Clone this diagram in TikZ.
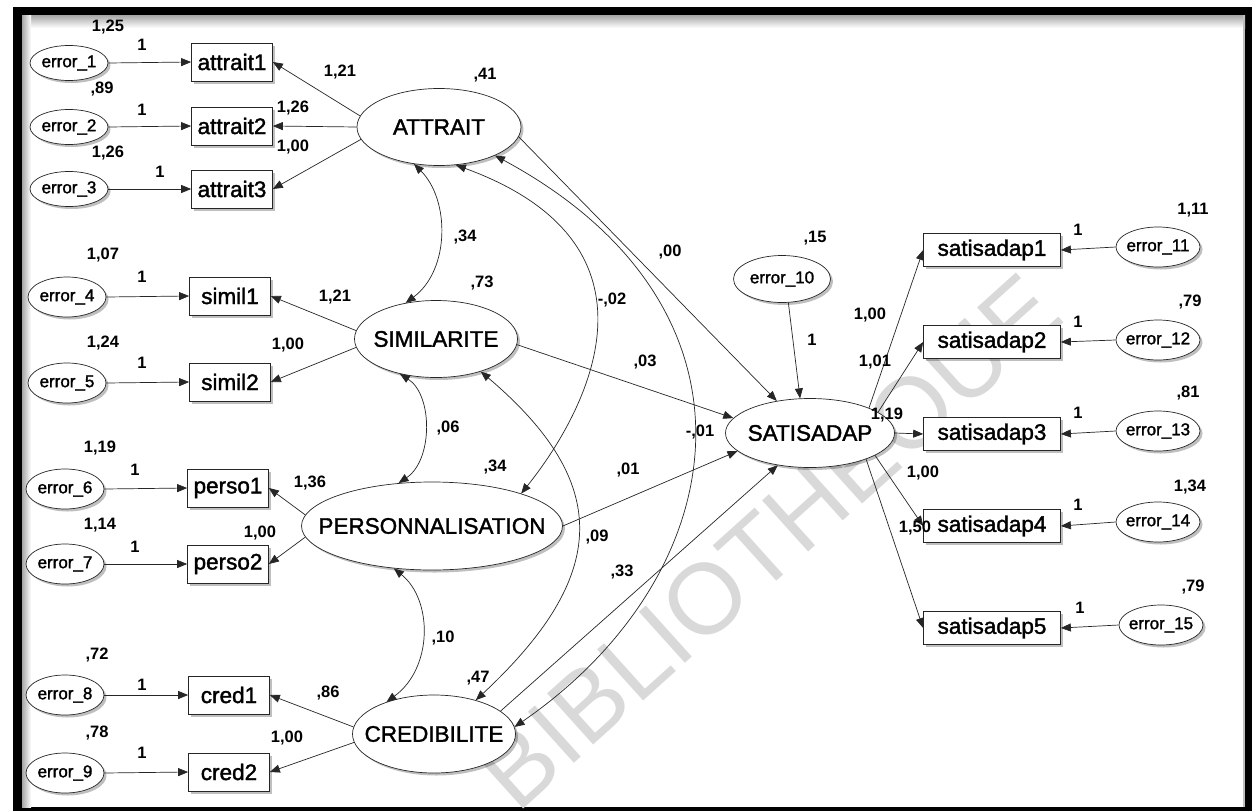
\documentclass[tikz,border=0pt]{standalone}
\usepackage{fontspec}
\setmainfont{Liberation Sans}
% heavier faces for the diagram text
\newfontfamily\amos{Liberation Sans}[FakeBold=1.6]
\newfontfamily\amosnum{Liberation Sans Bold}
\usetikzlibrary{shapes.geometric,arrows.meta,shadows}

% zero-width box so that long labels do not enlarge the ellipses
\newcommand\zw[1]{\makebox[0pt]{#1}}

\begin{document}
\begin{tikzpicture}[x=1pt,y=-1pt,
  line/.style={draw=black!85,line width=0.7pt},
  arr/.style={line,-{Triangle[length=10pt,width=8pt]}},
  dbl/.style={line,{Triangle[length=10pt,width=8pt]}-{Triangle[length=10pt,width=8pt]}},
  shd/.style={drop shadow={shadow xshift=2.5pt,shadow yshift=-2.5pt,opacity=0.25,fill=black}},
  obs/.style={rectangle,draw=black!85,line width=0.7pt,fill=white,shd,inner sep=0pt,
    minimum width=81pt,minimum height=38pt,font=\amos\fontsize{22.5}{24}\selectfont},
  sobs/.style={obs,minimum width=137pt,minimum height=33pt},
  err/.style={ellipse,draw=black!85,line width=0.7pt,fill=white,shd,inner sep=0pt,
    minimum width=78pt,minimum height=40pt,font=\amos\fontsize{17}{18}\selectfont},
  rerr/.style={err,minimum width=84pt,minimum height=40pt},
  lat/.style={ellipse,draw=black!85,line width=0.7pt,fill=white,shd,inner sep=0pt,
    minimum width=164pt,minimum height=77pt,font=\amos\fontsize{22.5}{24}\selectfont},
  num/.style={inner sep=0pt,font=\amosnum\fontsize{16.5}{18}\selectfont}
]
\useasboundingbox (0,0) rectangle (1252,811);

% frame with inner shadow
\fill[black] (13,7) rectangle (1252,811);
\fill[white] (22,15) rectangle (1245,807);
\shade[top color=black!35,bottom color=white] (22,15) rectangle (1245,28);
\shade[left color=black!35,right color=white] (22,15) rectangle (31,807);
\fill[black!25] (1243,15) rectangle (1245,807);

% watermark
\node[rotate=42,text=black!15,inner sep=0pt,font=\fontsize{100}{100}\selectfont] (wm) at (775,548) {BIBLIOTHEQUE};

% exogenous latent variables
\node[lat] (ATT) at (439,127) {\zw{ATTRAIT}};
\node[lat,minimum width=163pt] (SIM) at (436,339) {\zw{SIMILARITE}};
\node[lat,minimum width=261pt,minimum height=88pt] (PERS) at (432,526) {\zw{PERSONNALISATION}};
\node[lat,minimum width=163pt,minimum height=78pt] (CRED) at (434,734) {\zw{CREDIBILITE}};
% endogenous latent variable
\node[lat,minimum width=169pt,minimum height=69pt] (SAT) at (810,433) {\zw{SATISADAP}};
\node[err,minimum width=97pt,minimum height=47pt] (e10) at (782,279) {\zw{error\_10}};

% indicators, left block
\node[obs] (a1) at (232,62) {attrait1};
\node[obs] (a2) at (232,126) {attrait2};
\node[obs] (a3) at (232,189) {attrait3};
\node[obs] (m1) at (230,296) {simil1};
\node[obs] (m2) at (230,382) {simil2};
\node[obs] (p1) at (228,488) {perso1};
\node[obs] (p2) at (228,564) {perso2};
\node[obs] (c1) at (229,695) {cred1};
\node[obs] (c2) at (229,772) {cred2};

\node[err,minimum height=35pt] (e1) at (69,63) {\zw{error\_1}};
\node[err,minimum height=35pt] (e2) at (69,127) {\zw{error\_2}};
\node[err,minimum height=35pt] (e3) at (69,189) {\zw{error\_3}};
\node[err] (e4) at (67,297) {\zw{error\_4}};
\node[err] (e5) at (67,383) {\zw{error\_5}};
\node[err] (e6) at (65,489) {\zw{error\_6}};
\node[err] (e7) at (65,564) {\zw{error\_7}};
\node[err] (e8) at (65,695) {\zw{error\_8}};
\node[err] (e9) at (65,773) {\zw{error\_9}};

% indicators, right block
\node[sobs] (s1) at (992,250) {satisadap1};
\node[sobs] (s2) at (992,342) {satisadap2};
\node[sobs] (s3) at (992,434) {satisadap3};
\node[sobs] (s4) at (992,526) {satisadap4};
\node[sobs] (s5) at (992,628) {satisadap5};

\node[rerr] (e11) at (1158,247) {\zw{error\_11}};
\node[rerr] (e12) at (1158,340) {\zw{error\_12}};
\node[rerr] (e13) at (1158,431) {\zw{error\_13}};
\node[rerr] (e14) at (1158,522) {\zw{error\_14}};
\node[rerr] (e15) at (1161,625) {\zw{error\_15}};

% error terms
\foreach \e/\b in {e1/a1,e2/a2,e3/a3,e4/m1,e5/m2,e6/p1,e7/p2,e8/c1,e9/c2}
  \draw[arr] (\e.east) -- (\b.west);
\foreach \e/\b in {e11/s1,e12/s2,e13/s3,e14/s4,e15/s5}
  \draw[arr] (\e.west) -- (\b.east);
\draw[arr] (e10.285) -- (SAT.106);

% loadings
\draw[arr] (ATT.172) -- (a1.east);
\draw[arr] (ATT.180) -- (a2.east);
\draw[arr] (ATT.189) -- (a3.east);
\draw[arr] (SIM.174) -- (m1.east);
\draw[arr] (SIM.186) -- (m2.east);
\draw[arr] (PERS.175) -- (p1.east);
\draw[arr] (PERS.185) -- (p2.east);
\draw[arr] (CRED.175) -- (c1.east);
\draw[arr] (CRED.186) -- (c2.east);
\draw[arr] (SAT.23) -- (s1.west);
\draw[arr] (SAT.17) -- (s2.west);
\draw[arr] (SAT.0) -- (s3.west);
\draw[arr] (SAT.-19) -- (s4.west);
\draw[arr] (SAT.-25) -- (s5.west);

% structural paths
\draw[arr] (ATT.353) -- (SAT.136);
\draw[arr] (SIM.356) -- (SAT.169);
\draw[arr] (PERS.0) -- (SAT.194);
\draw[arr] (CRED.19) -- (SAT.225);

% covariances
\draw[dbl] (ATT.236) .. controls (450,200) and (450,270) .. (SIM.130);
\draw[dbl] (ATT.294) .. controls (675,245) and (588,410) .. (PERS.20);
\draw[dbl] (ATT.333) .. controls (778,308) and (735,575) .. (CRED.5);
\draw[dbl] (SIM.224) .. controls (433,395) and (433,460) .. (PERS.128);
\draw[dbl] (SIM.324) .. controls (612,483) and (610,575) .. (CRED.39);
\draw[dbl] (PERS.228) .. controls (433,600) and (433,668) .. (CRED.146);

% estimates
\node[num] (v1) at (108,27) {1,25};   \node[num] (w1) at (142,45) {1};
\node[num] (v2) at (102,89) {,89};    \node[num] (w2) at (142,110) {1};
\node[num] (v3) at (108,153) {1,26};  \node[num] (w3) at (160,172) {1};
\node[num] (la1) at (340,72) {1,21};
\node[num] (la2) at (293,108) {1,26};
\node[num] (la3) at (293,147) {1,00};
\node[num] (vATT) at (485,75) {,41};
\node[num] (v4) at (103,255) {1,07};  \node[num] (w4) at (142,277) {1};
\node[num] (v5) at (103,343) {1,24};  \node[num] (w5) at (142,363) {1};
\node[num] (lm1) at (335,297) {1,21};
\node[num] (lm2) at (288,345) {1,00};
\node[num] (vSIM) at (482,283) {,73};
\node[num] (cAS) at (465,237) {,34};
\node[num] (v6) at (100,448) {1,19};  \node[num] (w6) at (135,470) {1};
\node[num] (v7) at (100,525) {1,14};  \node[num] (w7) at (135,547) {1};
\node[num] (lp1) at (310,483) {1,36};
\node[num] (lp2) at (260,533) {1,00};
\node[num] (cSP) at (448,428) {,06};
\node[num] (vPERS) at (495,467) {,34};
\node[num] (v8) at (97,655) {,72};    \node[num] (w8) at (142,685) {1};
\node[num] (v9) at (97,733) {,78};    \node[num] (w9) at (142,753) {1};
\node[num] (lc1) at (328,693) {,86};
\node[num] (lc2) at (287,738) {1,00};
\node[num] (cPC) at (443,638) {,10};
\node[num] (vCRED) at (478,678) {,47};
\node[num] (cAP) at (612,300) {-,02};
\node[num] (bA) at (670,252) {,00};
\node[num] (bS) at (645,362) {,03};
\node[num] (cAC) at (700,432) {-,01};
\node[num] (bP) at (628,470) {,01};
\node[num] (cSC) at (597,537) {,09};
\node[num] (bC) at (622,572) {,33};
\node[num] (v10) at (815,238) {,15};
\node[num] (w10) at (812,340) {1};
\node[num] (ls1) at (870,315) {1,00};
\node[num] (ls2) at (875,362) {1,01};
\node[num] (ls3) at (887,415) {1,19};
\node[num] (ls4) at (923,473) {1,00};
\node[num] (ls5) at (915,528) {1,50};
\node[num] (v11) at (1193,210) {1,11}; \node[num] (w11) at (1078,230) {1};
\node[num] (v12) at (1190,302) {,79};  \node[num] (w12) at (1078,322) {1};
\node[num] (v13) at (1188,393) {,81};  \node[num] (w13) at (1078,413) {1};
\node[num] (v14) at (1190,487) {1,34}; \node[num] (w14) at (1078,505) {1};
\node[num] (v15) at (1193,587) {,79};  \node[num] (w15) at (1080,608) {1};
\end{tikzpicture}
\end{document}
